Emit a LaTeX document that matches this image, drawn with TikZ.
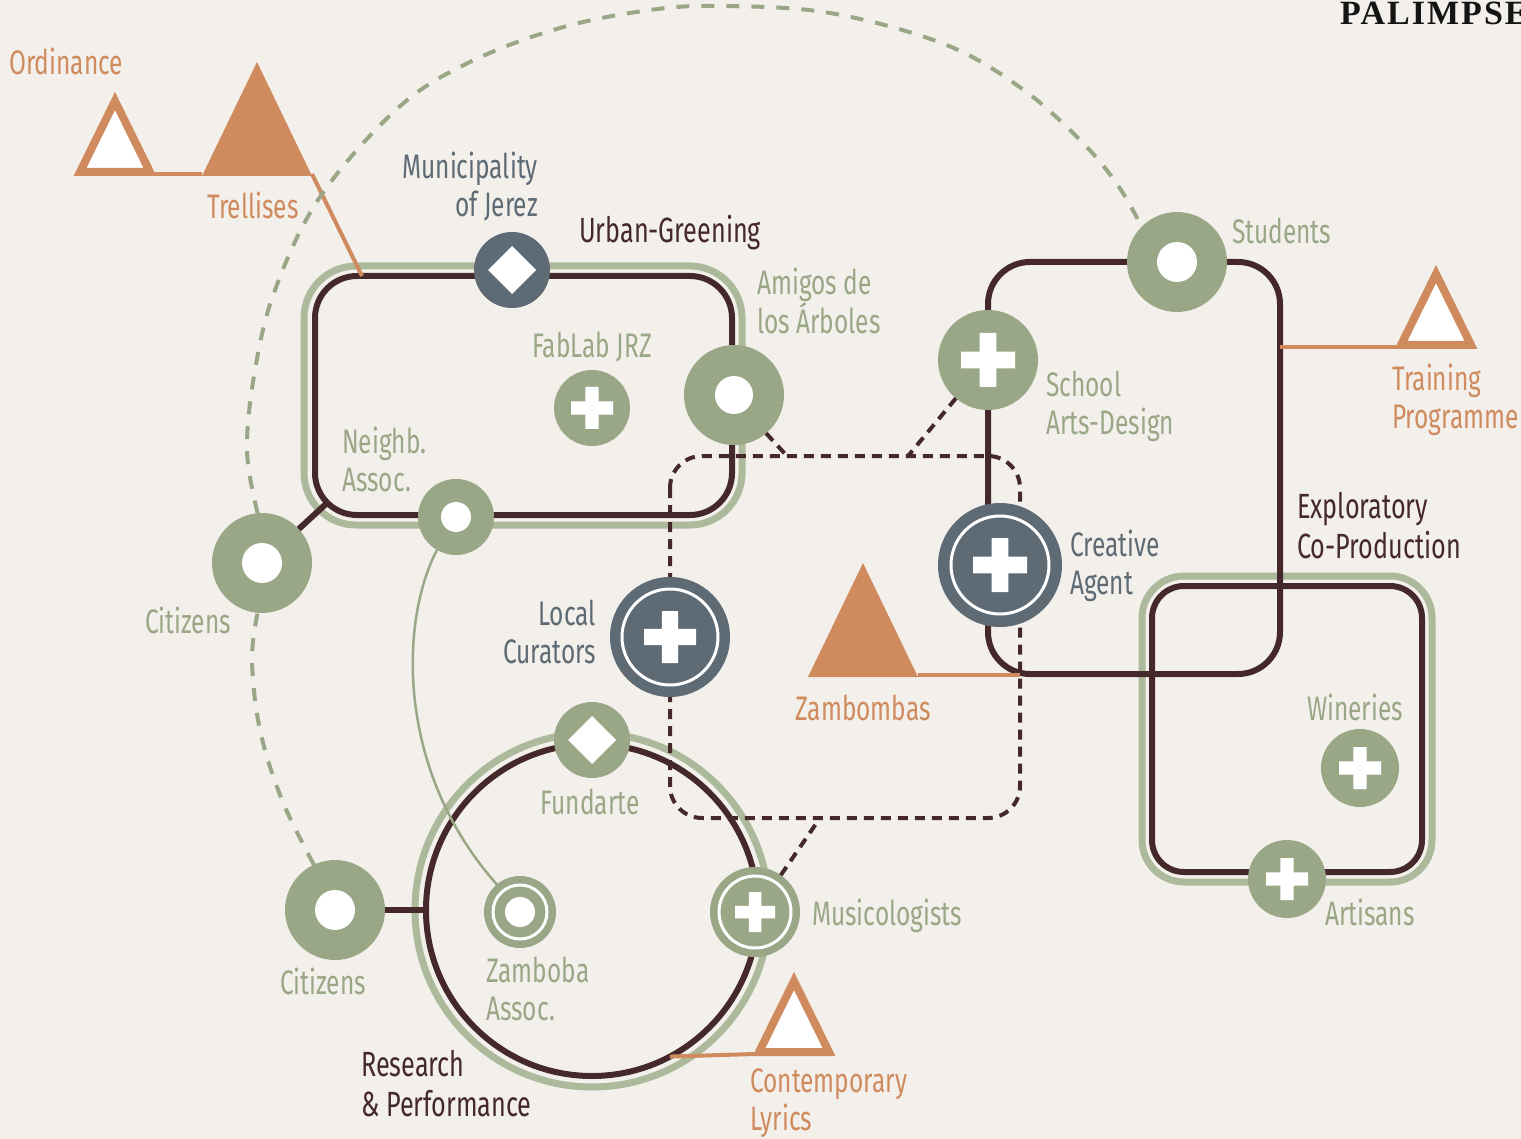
\documentclass[tikz,border=0pt]{standalone}
\usepackage{fontspec}
\setmainfont{Fira Sans}[FakeStretch=0.72]
\newfontfamily\logoFont{Liberation Serif}[LetterSpace=6]
\usepackage{tikz}

\definecolor{paperColor}{RGB}{243,240,235}
\definecolor{sageColor}{RGB}{154,167,134}
\definecolor{haloColor}{RGB}{172,186,155}
\definecolor{brownColor}{RGB}{69,40,42}
\definecolor{slateColor}{RGB}{94,106,116}
\definecolor{orangeColor}{RGB}{207,139,94}
\definecolor{logoColor}{RGB}{20,20,20}

\tikzstyle{diagram} = [x = 1pt, y = -1pt]
\tikzstyle{actorStyle} = [circle, inner sep = 0pt, outer sep = 0pt, fill = sageColor]
\tikzstyle{groupLine} = [color = brownColor, line width = 6pt]
\tikzstyle{groupHalo} = [color = haloColor, line width = 7pt]
\tikzstyle{projectLine} = [color = brownColor, line width = 4pt, dash pattern = on 10pt off 7pt, rounded corners = 32pt]
\tikzstyle{linkLine} = [color = brownColor, line width = 4pt, dash pattern = on 10pt off 7pt]
\tikzstyle{citizenArc} = [color = sageColor, line width = 4pt, dash pattern = on 13pt off 12pt]
\tikzstyle{resourceLine} = [color = orangeColor, line width = 4pt]
\tikzstyle{hollowTriangleStyle} = [draw = orangeColor, fill = white, line width = 8pt]
\tikzstyle{labelText} = [inner sep = 0pt, font = \fontsize{34}{38}\selectfont]
\tikzstyle{titleText} = [labelText, font = \fontsize{35}{40}\selectfont]

% actors
\newcommand{\dotActor}[5]{
  \node [actorStyle, minimum size = 2 * #4] (#1) at (#2,#3) {};
  \fill [white] (#1) circle (#5);}
\newcommand{\plusActor}[6]{
  \node [actorStyle, fill = #6, minimum size = 2 * #4] (#1) at (#2,#3) {};
  \fill [white, shift = {(#1)}] (-#5, -#5 / 3.2) rectangle (#5, #5 / 3.2) (-#5 / 3.2, -#5) rectangle (#5 / 3.2, #5);}
\newcommand{\ringPlusActor}[7]{
  \plusActor{#1}{#2}{#3}{#4}{#6}{#7}
  \draw [white, line width = 3pt] (#1) circle (#5);}
\newcommand{\ringDotActor}[6]{
  \dotActor{#1}{#2}{#3}{#4}{#6}
  \draw [white, line width = 3pt] (#1) circle (#5);}
\newcommand{\diamondActor}[6]{
  \node [actorStyle, fill = #6, minimum size = 2 * #4] (#1) at (#2,#3) {};
  \fill [white, shift = {(#1)}] (0, -#5) -- (#5, 0) -- (0, #5) -- (-#5, 0) -- cycle;}

% resources
\newcommand{\filledTriangle}[3]{
  \coordinate (#1Left) at (#2 - 55, #3 + 112);
  \coordinate (#1Right) at (#2 + 55, #3 + 112);
  \fill [orangeColor] (#2, #3) -- (#2 - 55, #3 + 114) -- (#2 + 55, #3 + 114) -- cycle;}
\newcommand{\hollowTriangle}[3]{
  \coordinate (#1Left) at (#2 - 40, #3 - 2);
  \coordinate (#1Right) at (#2 + 40, #3 - 2);
  \filldraw [hollowTriangleStyle] (#2, #3 - 75) -- (#2 - 35, #3 - 4) -- (#2 + 35, #3 - 4) -- cycle;}

\begin{document}
\begin{tikzpicture}[diagram]
  \useasboundingbox (0,0) rectangle (1521,1139);
  \fill [paperColor] (0,0) rectangle (1521,1139);

  % groups
  \draw [groupHalo, rounded corners = 52pt] (304,266) rectangle (742,525);
  \draw [groupLine, rounded corners = 42pt] (315,276) rectangle (732,515);
  \draw [groupHalo, rounded corners = 42pt] (1142,576) rectangle (1432,882);
  \draw [groupLine, rounded corners = 32pt] (1152,586) rectangle (1422,872);
  \draw [groupLine, rounded corners = 42pt] (988,262) rectangle (1280,674);
  \draw [groupHalo] (592,910) circle (177);
  \node [circle, draw = brownColor, line width = 6pt, minimum size = 332, inner sep = 0pt, outer sep = 0pt] (research) at (592,910) {};
  \draw [projectLine] (670,456) rectangle (1020,818);

  % resources
  \hollowTriangle{ordinance}{115}{176}
  \filledTriangle{trellises}{257}{62}
  \hollowTriangle{training}{1436}{349}
  \filledTriangle{zambombas}{863}{563}
  \hollowTriangle{lyrics}{794}{1056}

  % actors
  \dotActor{citizensA}{262}{563}{50}{20}
  \dotActor{citizensB}{335}{910}{50}{20}
  \dotActor{neighbAssoc}{456}{517}{38}{15}
  \dotActor{amigos}{734}{395}{50}{19}
  \dotActor{students}{1177}{262}{50}{20}
  \plusActor{fablab}{592}{408}{38}{21}{sageColor}
  \plusActor{school}{988}{360}{50}{27}{sageColor}
  \plusActor{wineries}{1360}{768}{39}{21}{sageColor}
  \plusActor{artisans}{1287}{879}{39}{21}{sageColor}
  \ringPlusActor{musicologists}{755}{912}{45}{36}{20}{sageColor}
  \ringPlusActor{curators}{670}{637}{60}{48}{26}{slateColor}
  \ringPlusActor{creativeAgent}{1000}{565}{62}{49}{27}{slateColor}
  \ringDotActor{zambobaAssoc}{520}{912}{36}{27}{15}
  \diamondActor{municipality}{512}{270}{38}{24}{slateColor}
  \diamondActor{fundarte}{592}{740}{38}{24}{sageColor}

  % connectors
  \coordinate (urbanFoot) at (362,276);
  \coordinate (urbanCorner) at (327,503);
  \coordinate (trainingFoot) at (1280,347);
  \coordinate (zambombasFoot) at (1020,675);
  \coordinate (amigosFoot) at (787,456);
  \coordinate (schoolFoot) at (908,456);
  \coordinate (musicFoot) at (820,818);
  \draw [resourceLine] (ordinanceRight) -- (trellisesLeft);
  \draw [resourceLine] (trellisesRight) -- (urbanFoot);
  \draw [resourceLine] (trainingFoot) -- (trainingLeft);
  \draw [resourceLine] (zambombasRight) -- (zambombasFoot);
  \draw [resourceLine] (research.-62) -- (lyricsLeft);
  \draw [groupLine] (citizensA) -- (urbanCorner);
  \draw [groupLine] (citizensB) -- (research.west);
  \draw [color = sageColor, line width = 2.5pt] (neighbAssoc.240) .. controls (400,620) and (395,770) .. (zambobaAssoc.130);
  \draw [linkLine] (amigos.-50) -- (amigosFoot);
  \draw [linkLine] (school.-130) -- (schoolFoot);
  \draw [linkLine] (musicologists.55) -- (musicFoot);
  \draw [citizenArc] plot [smooth, tension = 0.6] coordinates {(citizensB.115) (282,800) (260,730) (252,660) (citizensA.-95)};
  \draw [citizenArc] plot [smooth, tension = 0.6] coordinates {(citizensA.95) (247,450) (255,370) (275,290) (320,197) (398,108) (470,62) (560,28) (650,10) (722,6) (830,13) (944,44) (1021,88) (1080,140) (1117,184) (students.135)};

  % labels
  \node [labelText, text = orangeColor, anchor = base west] (ordinanceText) at (9,75) {Ordinance};
  \node [labelText, text = orangeColor, anchor = base] (trellisesText) at (253,219) {Trellises};
  \node [labelText, text = slateColor, anchor = east, align = right] (municipalityText) at (538,187) {Municipality\\of Jerez};
  \node [titleText, text = brownColor, anchor = base west] (urbanText) at (579,243) {Urban-Greening};
  \node [labelText, text = sageColor, anchor = west, align = left] (amigosText) at (757,301) {Amigos de\\los Árboles};
  \node [labelText, text = sageColor, anchor = base] (fablabText) at (592,358) {FabLab JRZ};
  \node [labelText, text = sageColor, anchor = west, align = left] (neighbText) at (342,459) {Neighb.\\Assoc.};
  \node [labelText, text = sageColor, anchor = base] (citizensAText) at (188,633) {Citizens};
  \node [labelText, text = slateColor, anchor = east, align = right] (curatorsText) at (596,632) {Local\\Curators};
  \node [labelText, text = sageColor, anchor = base] (fundarteText) at (590,814) {Fundarte};
  \node [labelText, text = sageColor, anchor = base] (citizensBText) at (323,994) {Citizens};
  \node [labelText, text = sageColor, anchor = west, align = left] (zambobaText) at (486,989) {Zamboba\\Assoc.};
  \node [labelText, text = sageColor, anchor = base west] (musicText) at (812,925) {Musicologists};
  \node [titleText, text = brownColor, anchor = west, align = left] (researchText) at (361,1084) {Research\\\& Performance};
  \node [labelText, text = orangeColor, anchor = west, align = left] (lyricsText) at (750,1103) {Contemporary\\Lyrics};
  \node [labelText, text = orangeColor, anchor = base] (zambombasText) at (863,720) {Zambombas};
  \node [labelText, text = sageColor, anchor = base west] (studentsText) at (1232,244) {Students};
  \node [labelText, text = sageColor, anchor = west, align = left] (schoolText) at (1046,406) {School\\Arts-Design};
  \node [labelText, text = slateColor, anchor = west, align = left] (creativeText) at (1070,566) {Creative\\Agent};
  \node [titleText, text = brownColor, anchor = west, align = left] (exploratoryText) at (1297,526) {Exploratory\\Co-Production};
  \node [labelText, text = orangeColor, anchor = west, align = left] (trainingText) at (1392,400) {Training\\Programme};
  \node [labelText, text = sageColor, anchor = base] (wineriesText) at (1355,720) {Wineries};
  \node [labelText, text = sageColor, anchor = base west] (artisansText) at (1325,925) {Artisans};
  \node [inner sep = 0pt, text = logoColor, anchor = base west, font = \logoFont\bfseries\fontsize{34}{34}\selectfont] (logoText) at (1340,25) {PALIMPSEST};
\end{tikzpicture}
\end{document}
